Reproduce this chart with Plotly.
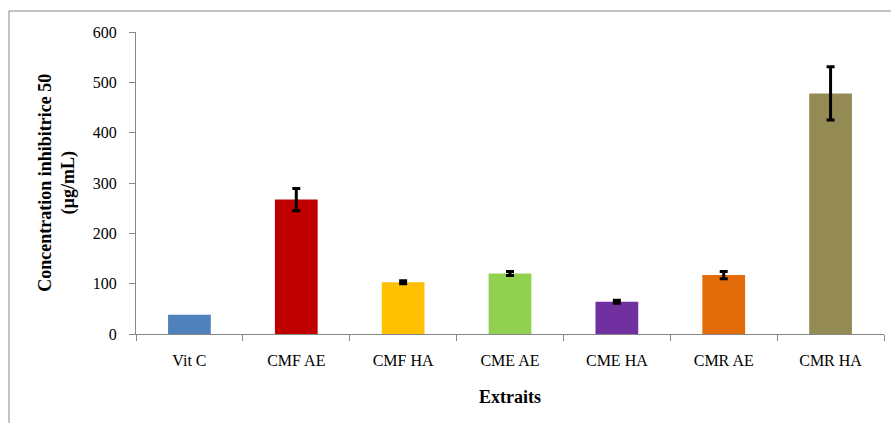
import plotly.graph_objects as go

categories = ["Vit C", "CMF AE", "CMF HA", "CME AE", "CME HA", "CMR AE", "CMR HA"]
values = [38, 267, 103, 120, 64, 117, 478]
errors = [0, 22, 3, 4, 3, 7, 53]
colors = ["#4F81BD", "#C00000", "#FFC000", "#92D050", "#7030A0", "#E36C09", "#948A54"]
y_ticks = [0, 100, 200, 300, 400, 500, 600]

font_family = "Liberation Serif"

fig = go.Figure()
fig.add_trace(go.Bar(
    x=categories, y=values,
    marker=dict(color=colors, line=dict(width=0)),
    width=0.4,
    showlegend=False,
))
# error bars only where a deviation exists
err_idx = [i for i, e in enumerate(errors) if e > 0]
fig.add_trace(go.Scatter(
    x=[categories[i] for i in err_idx], y=[values[i] for i in err_idx],
    mode="markers", marker=dict(opacity=0, size=1),
    error_y=dict(type="data", array=[errors[i] for i in err_idx], visible=True,
                 color="black", thickness=3, width=4),
    showlegend=False, hoverinfo="skip",
))

fig.update_layout(
    width=891, height=423,
    margin=dict(l=136, r=7, t=32, b=89),
    paper_bgcolor="white", plot_bgcolor="white",
    font=dict(family=font_family, size=16, color="black"),
    xaxis=dict(
        showline=True, linecolor="#868686", linewidth=1,
        ticks="outside", ticklen=6, tickcolor="#868686",
        tickson="boundaries", ticklabelstandoff=12,
        showgrid=False, tickfont=dict(size=16),
        title=dict(text="<b>Extraits</b>", font=dict(size=18), standoff=22),
    ),
    yaxis=dict(
        range=[0, 600], tickvals=y_ticks, ticktext=[str(v) for v in y_ticks],
        showline=True, linecolor="#868686", linewidth=1,
        ticks="outside", ticklen=6, tickcolor="#868686",
        ticklabelstandoff=9,
        showgrid=False, zeroline=False, tickfont=dict(size=16),
    ),
    shapes=[dict(
        type="rect", xref="paper", yref="paper",
        x0=-0.1698, x1=1.2, y0=-0.6, y1=1.0695,
        line=dict(color="#868686", width=1), fillcolor="rgba(0,0,0,0)",
        layer="below",
    )],
    annotations=[dict(
        text="<b>Concentration inhibitrice 50</b><br><b>(µg/mL)</b>",
        xref="paper", yref="paper", x=-0.106, y=0.5,
        textangle=-90, showarrow=False, font=dict(size=18),
        xanchor="center", yanchor="middle",
    )],
)

fig.write_html("out.html", config={"displayModeBar": False},
               post_script="document.body.style.margin='0';document.body.style.overflow='hidden';")
